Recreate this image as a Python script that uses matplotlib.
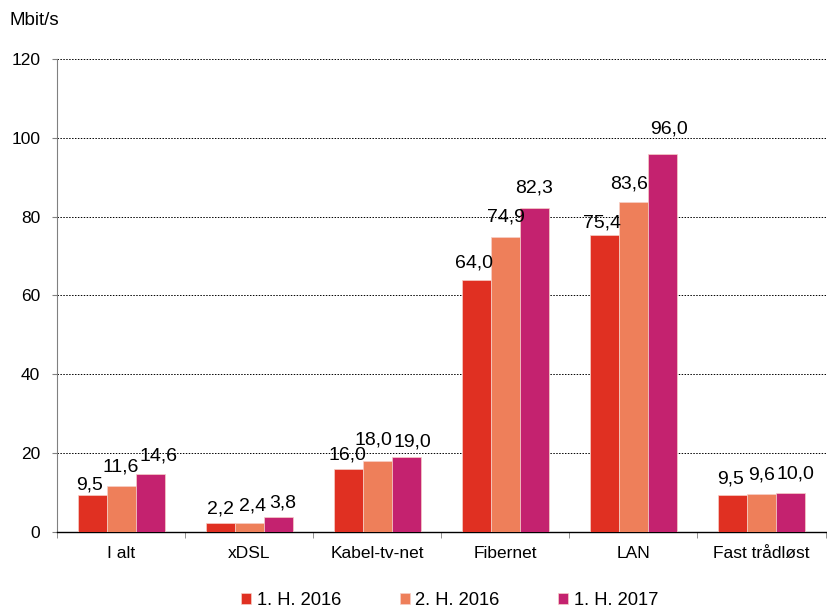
import matplotlib
matplotlib.use("Agg")
import matplotlib.pyplot as plt
import numpy as np

categories = ["I alt", "xDSL", "Kabel-tv-net", "Fibernet", "LAN", "Fast trådløst"]
series_names = ["1. H. 2016", "2. H. 2016", "1. H. 2017"]
h1_2016 = [9.5, 2.2, 16.0, 64.0, 75.4, 9.5]
h2_2016 = [11.6, 2.4, 18.0, 74.9, 83.6, 9.6]
h1_2017 = [14.6, 3.8, 19.0, 82.3, 96.0, 10.0]
colors = ["#E03022", "#EE7F5A", "#C4226F"]

# manual label nudges (pixels): horizontal shift and baseline gap above bar top
label_dx = [
    [-3, 0, -1, -2, -2, -2],
    [0, 3, -4, 1, -4, 0],
    [8, 4, 6, 0, 7, 5],
]
label_gap = [
    [5, 10, 9, 12, 7, 11],
    [15, 12, 17, 15, 14, 15],
    [14, 10, 11, 15, 20, 14],
]

plt.rcParams['font.family'] = ['Liberation Sans', 'DejaVu Sans']

fig = plt.figure(figsize=(8.28, 6.08), dpi=100)
ax = fig.add_axes([0.069, 0.125, 0.928, 0.778])

px = 72.0 / 100.0
x = np.arange(len(categories))
w = 0.227
for i, (vals, name, c) in enumerate(zip([h1_2016, h2_2016, h1_2017], series_names, colors)):
    bars = ax.bar(x + (i - 1) * w, vals, w, color=c, label=name, edgecolor='#F6D0C8',
                  linewidth=0.5, zorder=3)
    for j, (b, v) in enumerate(zip(bars, vals)):
        ax.annotate(f"{v:.1f}".replace('.', ','),
                    xy=(b.get_x() + b.get_width() / 2, v),
                    xytext=(label_dx[i][j] * px, label_gap[i][j] * px),
                    textcoords='offset points', ha='center', va='baseline',
                    fontsize=14, zorder=4)

ax.set_xlim(-0.5, len(categories) - 0.5)
ax.set_ylim(0, 120)
ax.set_yticks(np.arange(0, 121, 20))
ax.set_yticklabels([str(v) for v in range(0, 121, 20)], fontsize=12.5)
for y in range(20, 121, 20):
    ax.axhline(y, color='black', linestyle=(0, (1.5, 1.5)), linewidth=0.7, zorder=1)

ax.set_xticks(x)
ax.set_xticklabels(categories, fontsize=12.5)
ax.tick_params(axis='x', length=0, pad=10)
ax.set_xticks(np.arange(-0.5, len(categories), 1), minor=True)
ax.tick_params(axis='x', which='minor', length=4.5, color='#808080', direction='out')
ax.tick_params(axis='y', length=3.6, color='#808080', direction='out', pad=8.6)

for s in ['top', 'right']:
    ax.spines[s].set_visible(False)
ax.spines['left'].set_color('#808080')
ax.spines['bottom'].set_color('black')
ax.spines['bottom'].set_linewidth(1.0)

fig.text(0.012, 0.967, "Mbit/s", fontsize=13.5, ha='left', va='center')

leg = fig.legend(loc='center', bbox_to_anchor=(0.543, 0.012), ncol=3, frameon=False,
                 fontsize=13.2, handlelength=0.55, handleheight=0.55, handletextpad=0.3,
                 columnspacing=3.2, borderpad=0)

fig.savefig("out.png", dpi=100)
